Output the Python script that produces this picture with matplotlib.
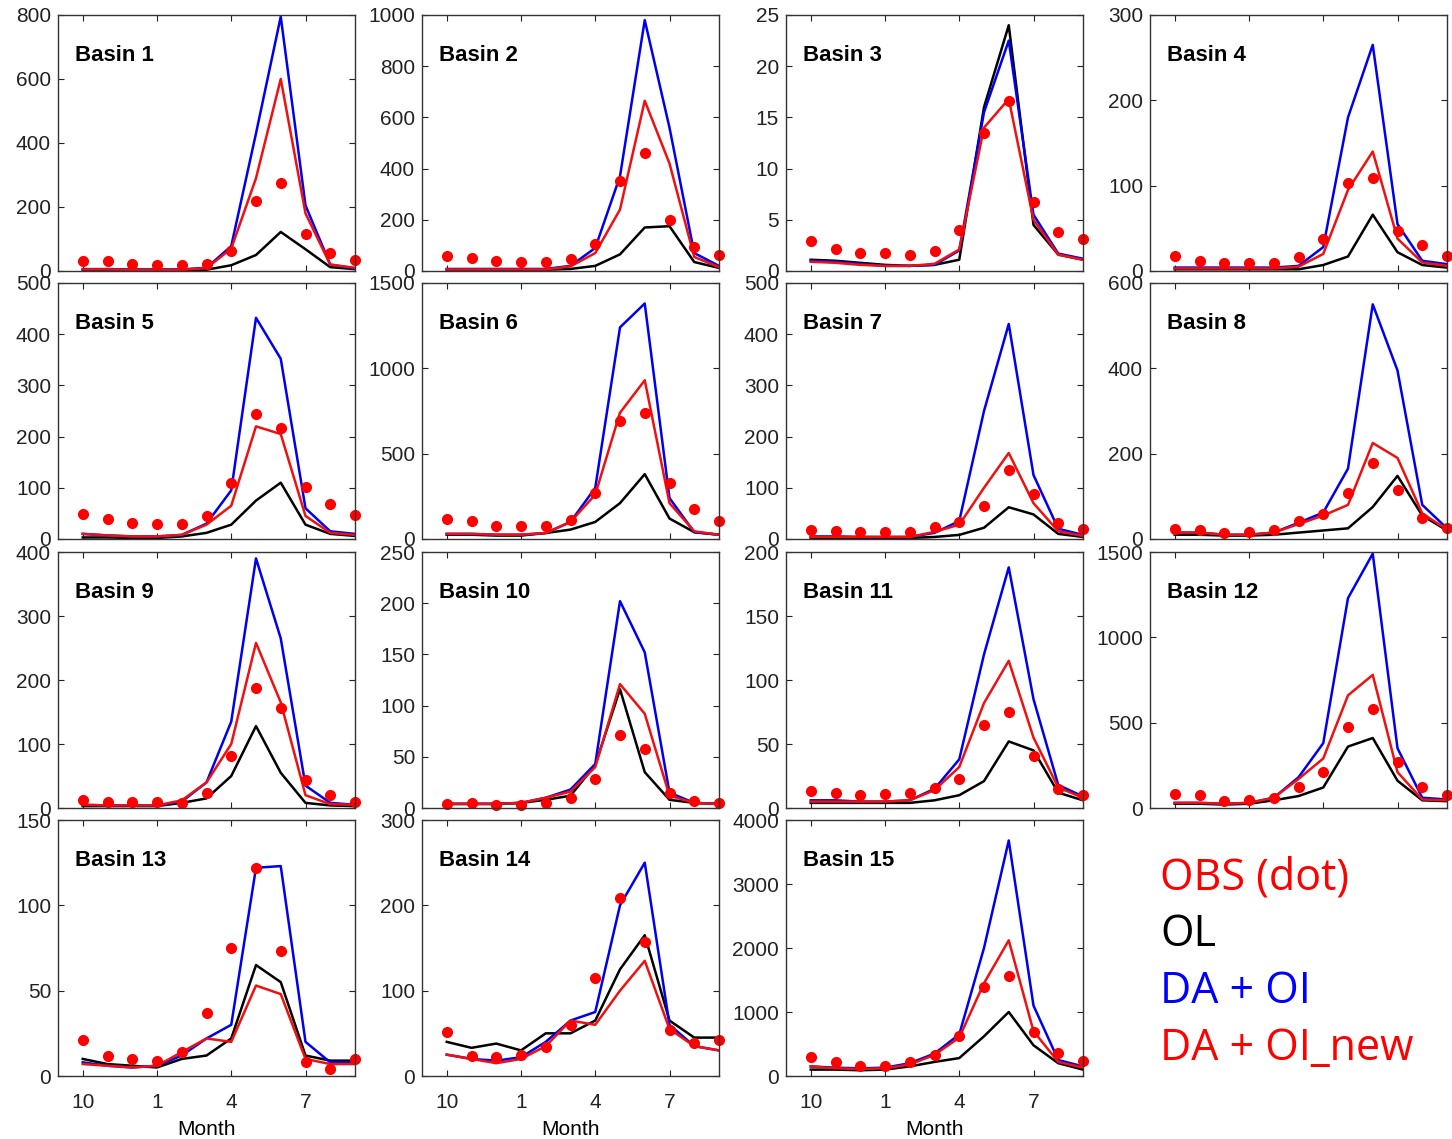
import numpy as np
import matplotlib.pyplot as plt

# months Oct..Sep, ticks shown at Oct, Jan, Apr, Jul
month_ticks = [0, 3, 6, 9]
month_labels = ['10', '1', '4', '7']

# OBS (dots), OL (black), DA + OI (blue), DA + OI_new (red)
obs1 = [31, 31, 21, 19, 19, 23, 63, 220, 274, 117, 55, 33]
ol1 = [3, 3, 3, 3, 3, 4, 18, 50, 122, 68, 12, 6]
da1 = [6, 6, 5, 5, 5, 10, 78, 430, 795, 205, 20, 8]
new1 = [5, 5, 4, 4, 4, 9, 70, 290, 600, 180, 20, 10]

obs2 = [59, 52, 39, 35, 35, 46, 107, 353, 461, 201, 94, 61]
ol2 = [5, 5, 5, 5, 5, 8, 20, 65, 170, 175, 35, 12]
da2 = [8, 8, 8, 8, 8, 20, 90, 370, 980, 560, 70, 20]
new2 = [6, 6, 6, 6, 6, 18, 70, 240, 665, 420, 55, 15]

obs3 = [2.9, 2.1, 1.8, 1.8, 1.6, 2.0, 4.0, 13.5, 16.6, 6.7, 3.8, 3.1]
ol3 = [1.1, 1.0, 0.8, 0.6, 0.5, 0.6, 1.1, 16.0, 24.0, 4.5, 1.6, 1.1]
da3 = [1.0, 0.9, 0.7, 0.5, 0.5, 0.6, 2.0, 15.5, 22.5, 5.5, 1.7, 1.2]
new3 = [0.9, 0.8, 0.6, 0.5, 0.5, 0.7, 2.1, 14.0, 16.8, 5.0, 1.6, 1.1]

obs4 = [17, 12, 9, 9, 9, 16, 37, 103, 109, 47, 30, 18]
ol4 = [2, 2, 2, 2, 2, 2, 7, 17, 66, 22, 7, 4]
da4 = [4, 4, 4, 4, 4, 6, 28, 180, 265, 55, 12, 8]
new4 = [3, 3, 3, 3, 3, 5, 20, 95, 140, 38, 10, 6]

obs5 = [49, 39, 31, 30, 29, 44, 110, 244, 216, 102, 69, 47]
ol5 = [3, 3, 2, 2, 5, 12, 28, 75, 110, 28, 10, 6]
da5 = [10, 7, 5, 5, 8, 30, 95, 432, 352, 60, 15, 10]
new5 = [10, 7, 5, 5, 8, 28, 65, 220, 205, 45, 12, 8]

obs6 = [118, 106, 79, 79, 79, 112, 270, 693, 738, 329, 175, 108]
ol6 = [25, 25, 20, 20, 35, 55, 100, 210, 380, 120, 40, 25]
da6 = [30, 30, 25, 25, 35, 100, 300, 1240, 1380, 240, 40, 25]
new6 = [30, 30, 25, 25, 35, 100, 260, 740, 930, 210, 45, 25]

obs7 = [18, 16, 13, 13, 13, 24, 34, 65, 134, 88, 32, 20]
ol7 = [2, 2, 2, 2, 2, 4, 8, 22, 62, 48, 10, 4]
da7 = [5, 5, 4, 4, 4, 12, 35, 250, 420, 125, 20, 8]
new7 = [4, 4, 4, 4, 4, 14, 28, 100, 168, 70, 15, 6]

obs8 = [24, 21, 13, 17, 20, 43, 59, 108, 179, 116, 50, 25]
ol8 = [10, 10, 8, 8, 10, 15, 20, 25, 75, 148, 55, 20]
da8 = [15, 15, 10, 10, 15, 38, 62, 165, 550, 395, 80, 25]
new8 = [15, 15, 10, 10, 15, 35, 55, 80, 225, 190, 60, 22]

obs9 = [12, 10, 9, 9, 8, 24, 82, 187, 157, 44, 20, 10]
ol9 = [3, 3, 3, 3, 8, 15, 50, 128, 55, 8, 4, 3]
da9 = [5, 4, 4, 4, 10, 40, 135, 390, 265, 35, 8, 5]
new9 = [5, 4, 4, 4, 12, 40, 100, 258, 165, 20, 6, 5]

obs10 = [4, 5, 3, 3, 5, 10, 28, 71, 58, 15, 7, 5]
ol10 = [4, 4, 4, 5, 8, 12, 42, 116, 35, 8, 5, 4]
da10 = [4, 4, 4, 5, 10, 18, 43, 202, 152, 15, 5, 4]
new10 = [4, 4, 4, 5, 10, 16, 40, 121, 92, 12, 5, 4]

obs11 = [13, 12, 10, 11, 12, 16, 23, 65, 75, 41, 15, 10]
ol11 = [4, 4, 4, 4, 4, 6, 10, 21, 52, 45, 12, 6]
da11 = [6, 6, 5, 5, 6, 15, 38, 120, 188, 85, 18, 9]
new11 = [5, 5, 5, 5, 6, 14, 32, 82, 115, 55, 16, 8]

obs12 = [82, 75, 43, 49, 59, 124, 210, 476, 578, 271, 122, 75]
ol12 = [25, 25, 20, 25, 45, 70, 120, 360, 410, 160, 45, 40]
da12 = [30, 30, 25, 30, 60, 180, 380, 1230, 1490, 350, 60, 50]
new12 = [30, 30, 25, 30, 60, 170, 290, 660, 780, 210, 50, 45]

obs13 = [21, 12, 10, 9, 14, 37, 75, 122, 73, 8, 4, 10]
ol13 = [10, 7, 6, 5, 10, 12, 22, 65, 55, 12, 9, 9]
da13 = [8, 6, 5, 6, 12, 22, 30, 122, 123, 20, 8, 8]
new13 = [7, 6, 5, 6, 14, 22, 20, 53, 48, 10, 7, 7]

obs14 = [52, 23, 22, 25, 34, 60, 115, 209, 157, 54, 39, 42]
ol14 = [40, 33, 38, 30, 50, 50, 65, 125, 165, 65, 45, 45]
da14 = [25, 20, 18, 22, 40, 65, 75, 200, 250, 60, 35, 30]
new14 = [25, 20, 15, 20, 35, 65, 60, 100, 135, 55, 35, 30]

obs15 = [297, 219, 156, 156, 219, 328, 625, 1390, 1560, 690, 360, 234]
ol15 = [100, 100, 90, 100, 150, 220, 280, 620, 1000, 480, 200, 100]
da15 = [150, 130, 120, 130, 200, 350, 650, 2000, 3680, 1100, 250, 150]
new15 = [150, 120, 110, 120, 180, 330, 600, 1450, 2120, 700, 220, 130]

basins = [
    (obs1, ol1, da1, new1, 800, 200),
    (obs2, ol2, da2, new2, 1000, 200),
    (obs3, ol3, da3, new3, 25, 5),
    (obs4, ol4, da4, new4, 300, 100),
    (obs5, ol5, da5, new5, 500, 100),
    (obs6, ol6, da6, new6, 1500, 500),
    (obs7, ol7, da7, new7, 500, 100),
    (obs8, ol8, da8, new8, 600, 200),
    (obs9, ol9, da9, new9, 400, 100),
    (obs10, ol10, da10, new10, 250, 50),
    (obs11, ol11, da11, new11, 200, 50),
    (obs12, ol12, da12, new12, 1500, 500),
    (obs13, ol13, da13, new13, 150, 50),
    (obs14, ol14, da14, new14, 300, 100),
    (obs15, ol15, da15, new15, 4000, 1000),
]

plt.rcParams['font.family'] = ['Liberation Sans', 'DejaVu Sans']

W, H = 1452, 1139
fig = plt.figure(figsize=(W / 100, H / 100), dpi=100)

col_left = [58, 422, 786, 1150]
row_top = [15, 283, 552, 820]
ax_w, ax_h = 297, 256

x = np.arange(12)
for i, (obs, ol, da, new, ymax, ystep) in enumerate(basins):
    r, c = divmod(i, 4)
    ax = fig.add_axes([col_left[c] / W, 1 - (row_top[r] + ax_h) / H,
                       ax_w / W, ax_h / H])
    ax.plot(x, ol, color='black', lw=1.8)
    ax.plot(x, da, color='#0000ee', lw=1.8)
    ax.plot(x, new, color='#ee1111', lw=1.8)
    ax.plot(x, obs, 'o', color='#ff0000', ms=7, clip_on=False)
    ax.set_xlim(-1, 11)
    ax.set_ylim(0, ymax)
    ax.set_yticks(np.arange(0, ymax + ystep / 2, ystep))
    ax.set_xticks(month_ticks)
    ax.tick_params(direction='in', top=True, right=True, length=4,
                   labelsize=15, colors='#222222', pad=5)
    ax.tick_params(axis='x', pad=12)
    if r == 3:
        ax.set_xticklabels(month_labels)
        ax.set_xlabel('Month', fontsize=15, labelpad=6)
    else:
        ax.set_xticklabels([])
    for s in ax.spines.values():
        s.set_linewidth(1.0)
        s.set_color('#333333')
    ax.text(0.058, 0.84, 'Basin %d' % (i + 1), transform=ax.transAxes,
            fontsize=16, fontweight='bold', va='center')

# legend text in the empty slot
legend_items = [('OBS (dot)', '#ff0000'), ('OL', 'black'),
                ('DA + OI', '#0000ff'), ('DA + OI_new', '#ff0000')]
for k, (txt, col) in enumerate(legend_items):
    fig.text(1160 / W, 1 - (878 + 57 * k) / H, txt, color=col,
             fontsize=31, va='center', ha='left', family='Open Sans')

fig.savefig('out.png', dpi=100)
